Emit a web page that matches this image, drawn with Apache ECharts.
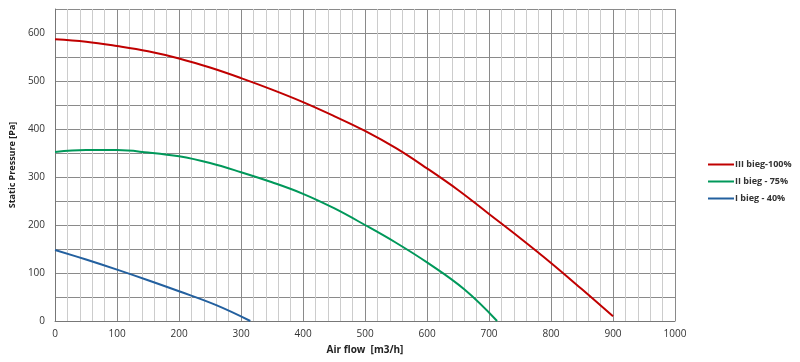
<!DOCTYPE html>
<html><head><meta charset="utf-8">
<script src="https://cdn.jsdelivr.net/npm/echarts@6/dist/echarts.min.js"></script>
<style>html,body{margin:0;padding:0;background:#fff}#c{width:800px;height:362px}</style>
</head><body><div id="c"></div>
<script>
const seriesNames = ['III bieg-100%', 'II bieg - 75%', 'I bieg - 40%'];
const flowIII = [0, 50, 100, 150, 200, 250, 300, 350, 400, 450, 500, 550, 600, 650, 700, 750, 800, 850, 900];
const presIII = [587, 582, 573, 562, 547, 528, 506, 482, 456, 427, 396, 360, 318, 273, 223, 173, 121, 66, 10];
const flowII = [0, 50, 100, 150, 200, 250, 300, 350, 400, 450, 500, 550, 600, 660, 713];
const presII = [352, 356, 356, 351, 343, 329, 310, 289, 265, 235, 200, 163, 122, 66, 0];
const flowI = [0, 50, 100, 150, 200, 260, 315];
const presI = [148, 128, 107, 85, 62, 33, 0];
const colors = ['#c00000', '#00985a', '#23609f'];

function pairs(xs, ys){ return xs.map((x,i)=>[x, ys[i]]); }
const chart = echarts.init(document.getElementById('c'));
const font = 'Open Sans';
function line(i, xs, ys){
  return {name:seriesNames[i], type:'line', smooth:0.4, symbol:'none',
    data:pairs(xs,ys), lineStyle:{color:colors[i], width:2}, itemStyle:{color:colors[i]}};
}
chart.setOption({
  animation:false,
  grid:{left:53, right:125, top:9, bottom:41},
  xAxis:{type:'value', min:0, max:1000, interval:100,
    name:'Air flow  [m3/h]', nameLocation:'middle', nameGap:24,
    nameTextStyle:{fontFamily:font, fontSize:10, fontWeight:'bold', color:'#222'},
    axisLine:{show:true, lineStyle:{color:'#777', width:1}},
    axisTick:{show:false},
    axisLabel:{fontFamily:font, fontSize:10, color:'#333', margin:8, formatter:v => String(v)},
    splitLine:{show:true, lineStyle:{color:'#8a8a8a', width:1}},
    minorTick:{show:false, splitNumber:5},
    minorSplitLine:{show:true, lineStyle:{color:'#cccccc', width:1}}
  },
  yAxis:{type:'value', min:0, max:650, interval:50,
    name:'Static Pressure [Pa]', nameLocation:'middle', nameGap:34, nameRotate:90,
    nameTextStyle:{fontFamily:font, fontSize:9, fontWeight:'bold', color:'#222'},
    axisLine:{show:true, lineStyle:{color:'#777', width:1}},
    axisTick:{show:false},
    axisLabel:{fontFamily:font, fontSize:10, color:'#333', margin:10,
      formatter:v => (v % 100 === 0 ? String(v) : '')},
    splitLine:{show:true, lineStyle:{color:'#8a8a8a', width:1}}
  },
  legend:{orient:'vertical', left:703, top:155, itemGap:8, itemWidth:26, itemHeight:2,
    icon:'rect',
    textStyle:{fontFamily:font, fontSize:9, fontWeight:'bold', color:'#333', padding:[0,0,0,-4]},
    data:seriesNames},
  series:[ line(0, flowIII, presIII), line(1, flowII, presII), line(2, flowI, presI) ]
});
</script>
</body></html>
